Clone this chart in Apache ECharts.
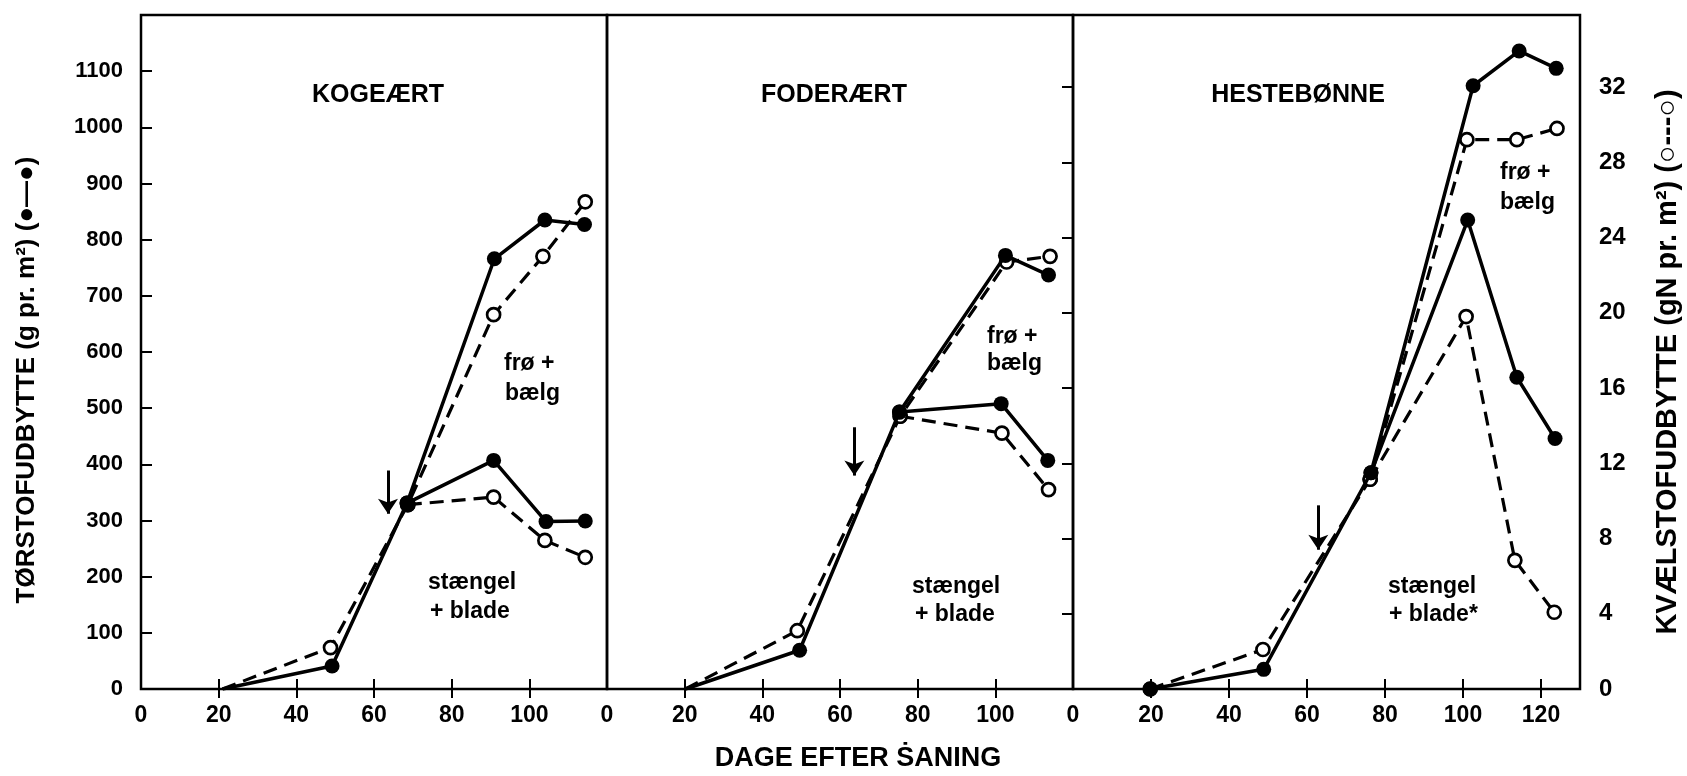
<!DOCTYPE html>
<html><head><meta charset="utf-8">
<script src="https://cdn.jsdelivr.net/npm/echarts@6/dist/echarts.min.js"></script>
<style>html,body{margin:0;padding:0;background:#fff}#c{width:1687px;height:776px}</style>
</head><body><div id="c"></div>
<script>
// ---- data (days after sowing, value) ----
const panelTitles = ['KOGEÆRT', 'FODERÆRT', 'HESTEBØNNE'];
const xMax = [120, 120, 130];
const xLabelsP1 = [0, 20, 40, 60, 80, 100];
const xLabelsP2 = [0, 20, 40, 60, 80, 100];
const xLabelsP3 = [0, 20, 40, 60, 80, 100, 120];
const leftTicks = [0, 100, 200, 300, 400, 500, 600, 700, 800, 900, 1000, 1100];
const rightTicks = [0, 4, 8, 12, 16, 20, 24, 28, 32];

// KOGEÆRT: dry matter g/m2 (filled, solid), N gN/m2 (open, dashed)
const kogeDryTotal = [[21, 0], [49.2, 41], [68.5, 331], [91, 766], [104, 835], [114.2, 827]];
const kogeDryStem  = [[68.5, 331], [90.8, 407], [104.3, 298], [114.4, 299]];
const kogeNTotal   = [[21, 0], [48.8, 2.2], [68.7, 9.8], [90.8, 19.9], [103.5, 23.0], [114.4, 25.9]];
const kogeNStem    = [[68.7, 9.8], [90.8, 10.2], [104, 7.9], [114.4, 7.0]];

// FODERÆRT
const foderDryTotal = [[20.2, 0], [49.6, 69], [75.3, 493], [102.6, 772], [113.7, 737]];
const foderDryStem  = [[75.3, 493], [101.5, 508], [113.5, 407]];
const foderNTotal   = [[20.2, 0], [49, 3.1], [75.5, 14.5], [102.9, 22.7], [114.1, 23.0]];
const foderNStem    = [[75.5, 14.5], [101.7, 13.6], [113.7, 10.6]];

// HESTEBØNNE
const hesteDryTotal = [[19.8, 0], [48.9, 35], [76.4, 385], [102.6, 1074], [114.4, 1136], [123.9, 1105]];
const hesteDryStem  = [[76.4, 385], [101.2, 835], [113.8, 555], [123.6, 446]];
const hesteNTotal   = [[19.8, 0], [48.7, 2.1], [76.2, 11.15], [101, 29.2], [113.8, 29.2], [124.1, 29.8]];
const hesteNStem    = [[76.2, 11.15], [100.8, 19.8], [113.3, 6.84], [123.4, 4.08]];

// arrows (day, from value, to value) in dry-matter units
const arrows = [[63.6, 389, 312], [63.7, 466, 380], [62.9, 327, 248]];

const dry = [[kogeDryTotal, kogeDryStem], [foderDryTotal, foderDryStem], [hesteDryTotal, hesteDryStem]];
const nit = [[kogeNTotal, kogeNStem], [foderNTotal, foderNStem], [hesteNTotal, hesteNStem]];
const startMarkerShown = [false, false, true];

// ---- layout ----
const gridTop = 15, gridH = 674;
const grids = [
  {left: 141, top: gridTop, width: 466, height: gridH},
  {left: 607, top: gridTop, width: 466, height: gridH},
  {left: 1073, top: gridTop, width: 507, height: gridH}
];
const LEFT_MAX = 1200, RIGHT_MAX = 35.83;
const FONT = '"Liberation Sans", "DejaVu Sans", sans-serif';

const chart = echarts.init(document.getElementById('c'), null, {renderer: 'canvas'});

const gridOpts = grids.map(g => Object.assign({show: true, borderColor: '#000', borderWidth: 2.5, backgroundColor: 'transparent'}, g));

const xLabelSets = [xLabelsP1, xLabelsP2, xLabelsP3];
const xAxes = [];
for (let p = 0; p < 3; p++) {
  const tickVals = [];
  for (let v = 20; v < xMax[p]; v += 20) tickVals.push(v);
  xAxes.push({
    type: 'value', gridIndex: p, min: 0, max: xMax[p], interval: 20, position: 'bottom',
    axisLine: {show: false}, splitLine: {show: false},
    axisTick: {show: true, inside: true, length: 10, lineStyle: {color: '#000', width: 2}, customValues: tickVals},
    axisLabel: {show: true, customValues: xLabelSets[p], formatter: v => String(v), color: '#000', fontFamily: FONT, fontWeight: 'bold', fontSize: 23, margin: 15}
  });
}
for (let p = 0; p < 3; p++) {
  const tickVals = [];
  for (let v = 20; v < xMax[p]; v += 20) tickVals.push(v);
  xAxes.push({
    type: 'value', gridIndex: p, min: 0, max: xMax[p], interval: 20, position: 'top',
    axisLine: {show: false}, splitLine: {show: false},
    axisTick: {show: true, inside: true, length: 9, lineStyle: {color: '#000', width: 2}, customValues: tickVals},
    axisLabel: {show: false}
  });
}

const yAxes = [];
for (let p = 0; p < 3; p++) {
  yAxes.push({
    type: 'value', gridIndex: p, min: 0, max: LEFT_MAX, interval: 100, position: 'left',
    show: p === 0,
    axisLine: {show: false}, splitLine: {show: false},
    axisTick: {show: true, inside: true, length: 11, lineStyle: {color: '#000', width: 2}, customValues: leftTicks.slice(1)},
    axisLabel: {show: true, customValues: leftTicks, formatter: v => String(v), color: '#000', fontFamily: FONT, fontWeight: 'bold', fontSize: 22, margin: 18}
  });
  yAxes.push({
    type: 'value', gridIndex: p, min: 0, max: RIGHT_MAX, interval: 4, position: 'right',
    show: p === 2,
    axisLine: {show: false}, splitLine: {show: false},
    axisTick: {show: true, inside: true, length: 11, lineStyle: {color: '#000', width: 2}, customValues: rightTicks.slice(1)},
    axisLabel: {show: true, customValues: rightTicks, formatter: v => String(v), color: '#000', fontFamily: FONT, fontWeight: 'bold', fontSize: 24, margin: 19}
  });
}

const toData = (arr, p) => arr.map((pt, i) => (i === 0 && pt[1] === 0 && !startMarkerShown[p]) ? {value: pt, symbol: 'none'} : pt);

const series = [];
for (let p = 0; p < 3; p++) {
  nit[p].forEach(d => series.push({
    type: 'line', xAxisIndex: p, yAxisIndex: p * 2 + 1, data: toData(d, p),
    symbol: 'circle', symbolSize: 13, showSymbol: true,
    lineStyle: {color: '#000', width: 3.2, type: [14, 8]},
    itemStyle: {color: '#fff', borderColor: '#000', borderWidth: 2.7},
    z: 3, silent: true
  }));
  dry[p].forEach((d, i) => {
    const s = {
      type: 'line', xAxisIndex: p, yAxisIndex: p * 2, data: toData(d, p),
      symbol: 'circle', symbolSize: 15, showSymbol: true,
      lineStyle: {color: '#000', width: 3.5},
      itemStyle: {color: '#000', borderColor: '#000', borderWidth: 0},
      z: 4, silent: true
    };
    if (i === 0) {
      const a = arrows[p];
      s.markLine = {
        silent: true, symbol: ['none', 'arrow'], symbolSize: 15,
        lineStyle: {color: '#000', width: 3, type: 'solid'},
        label: {show: false},
        data: [[{coord: [a[0], a[1]]}, {coord: [a[0], a[2]]}]]
      };
    }
    series.push(s);
  });
}

const txt = (text, x, y, size, align) => ({
  type: 'text', x: x, y: y, silent: true, z: 10,
  style: {text: text, fill: '#000', font: 'bold ' + size + 'px ' + FONT, align: align || 'left', verticalAlign: 'middle'}
});

const graphic = [
  txt(panelTitles[0], 378, 95, 25, 'center'),
  txt(panelTitles[1], 834, 95, 25, 'center'),
  txt(panelTitles[2], 1298, 95, 25, 'center'),
  txt('frø +', 504, 364, 23), txt('bælg', 505, 394, 23),
  txt('stængel', 428, 583, 23), txt('+ blade', 430, 612, 23),
  txt('frø +', 987, 337, 23), txt('bælg', 987, 364, 23),
  txt('stængel', 912, 587, 23), txt('+ blade', 915, 615, 23),
  txt('frø +', 1500, 173, 23), txt('bælg', 1500, 203, 23),
  txt('stængel', 1388, 587, 23), txt('+ blade*', 1389, 615, 23),
  {type: 'text', x: 858, y: 759, silent: true,
   style: {text: 'DAGE EFTER ṠANING', fill: '#000', font: 'bold 27px ' + FONT, align: 'center', verticalAlign: 'middle'}},
  {type: 'text', x: 27, y: 380, rotation: Math.PI / 2, silent: true,
   style: {text: 'TØRSTOFUDBYTTE (g pr. m²) (●—●)', fill: '#000', font: 'bold 26px ' + FONT, align: 'center', verticalAlign: 'middle'}},
  {type: 'text', x: 1668, y: 362, rotation: Math.PI / 2, silent: true,
   style: {text: 'KVÆLSTOFUDBYTTE (gN pr. m²) (○---○)', fill: '#000', font: 'bold 29px ' + FONT, align: 'center', verticalAlign: 'middle'}}
];

chart.setOption({
  animation: false,
  backgroundColor: '#fff',
  grid: gridOpts,
  xAxis: xAxes,
  yAxis: yAxes,
  series: series,
  graphic: graphic
});
</script>
</body></html>
